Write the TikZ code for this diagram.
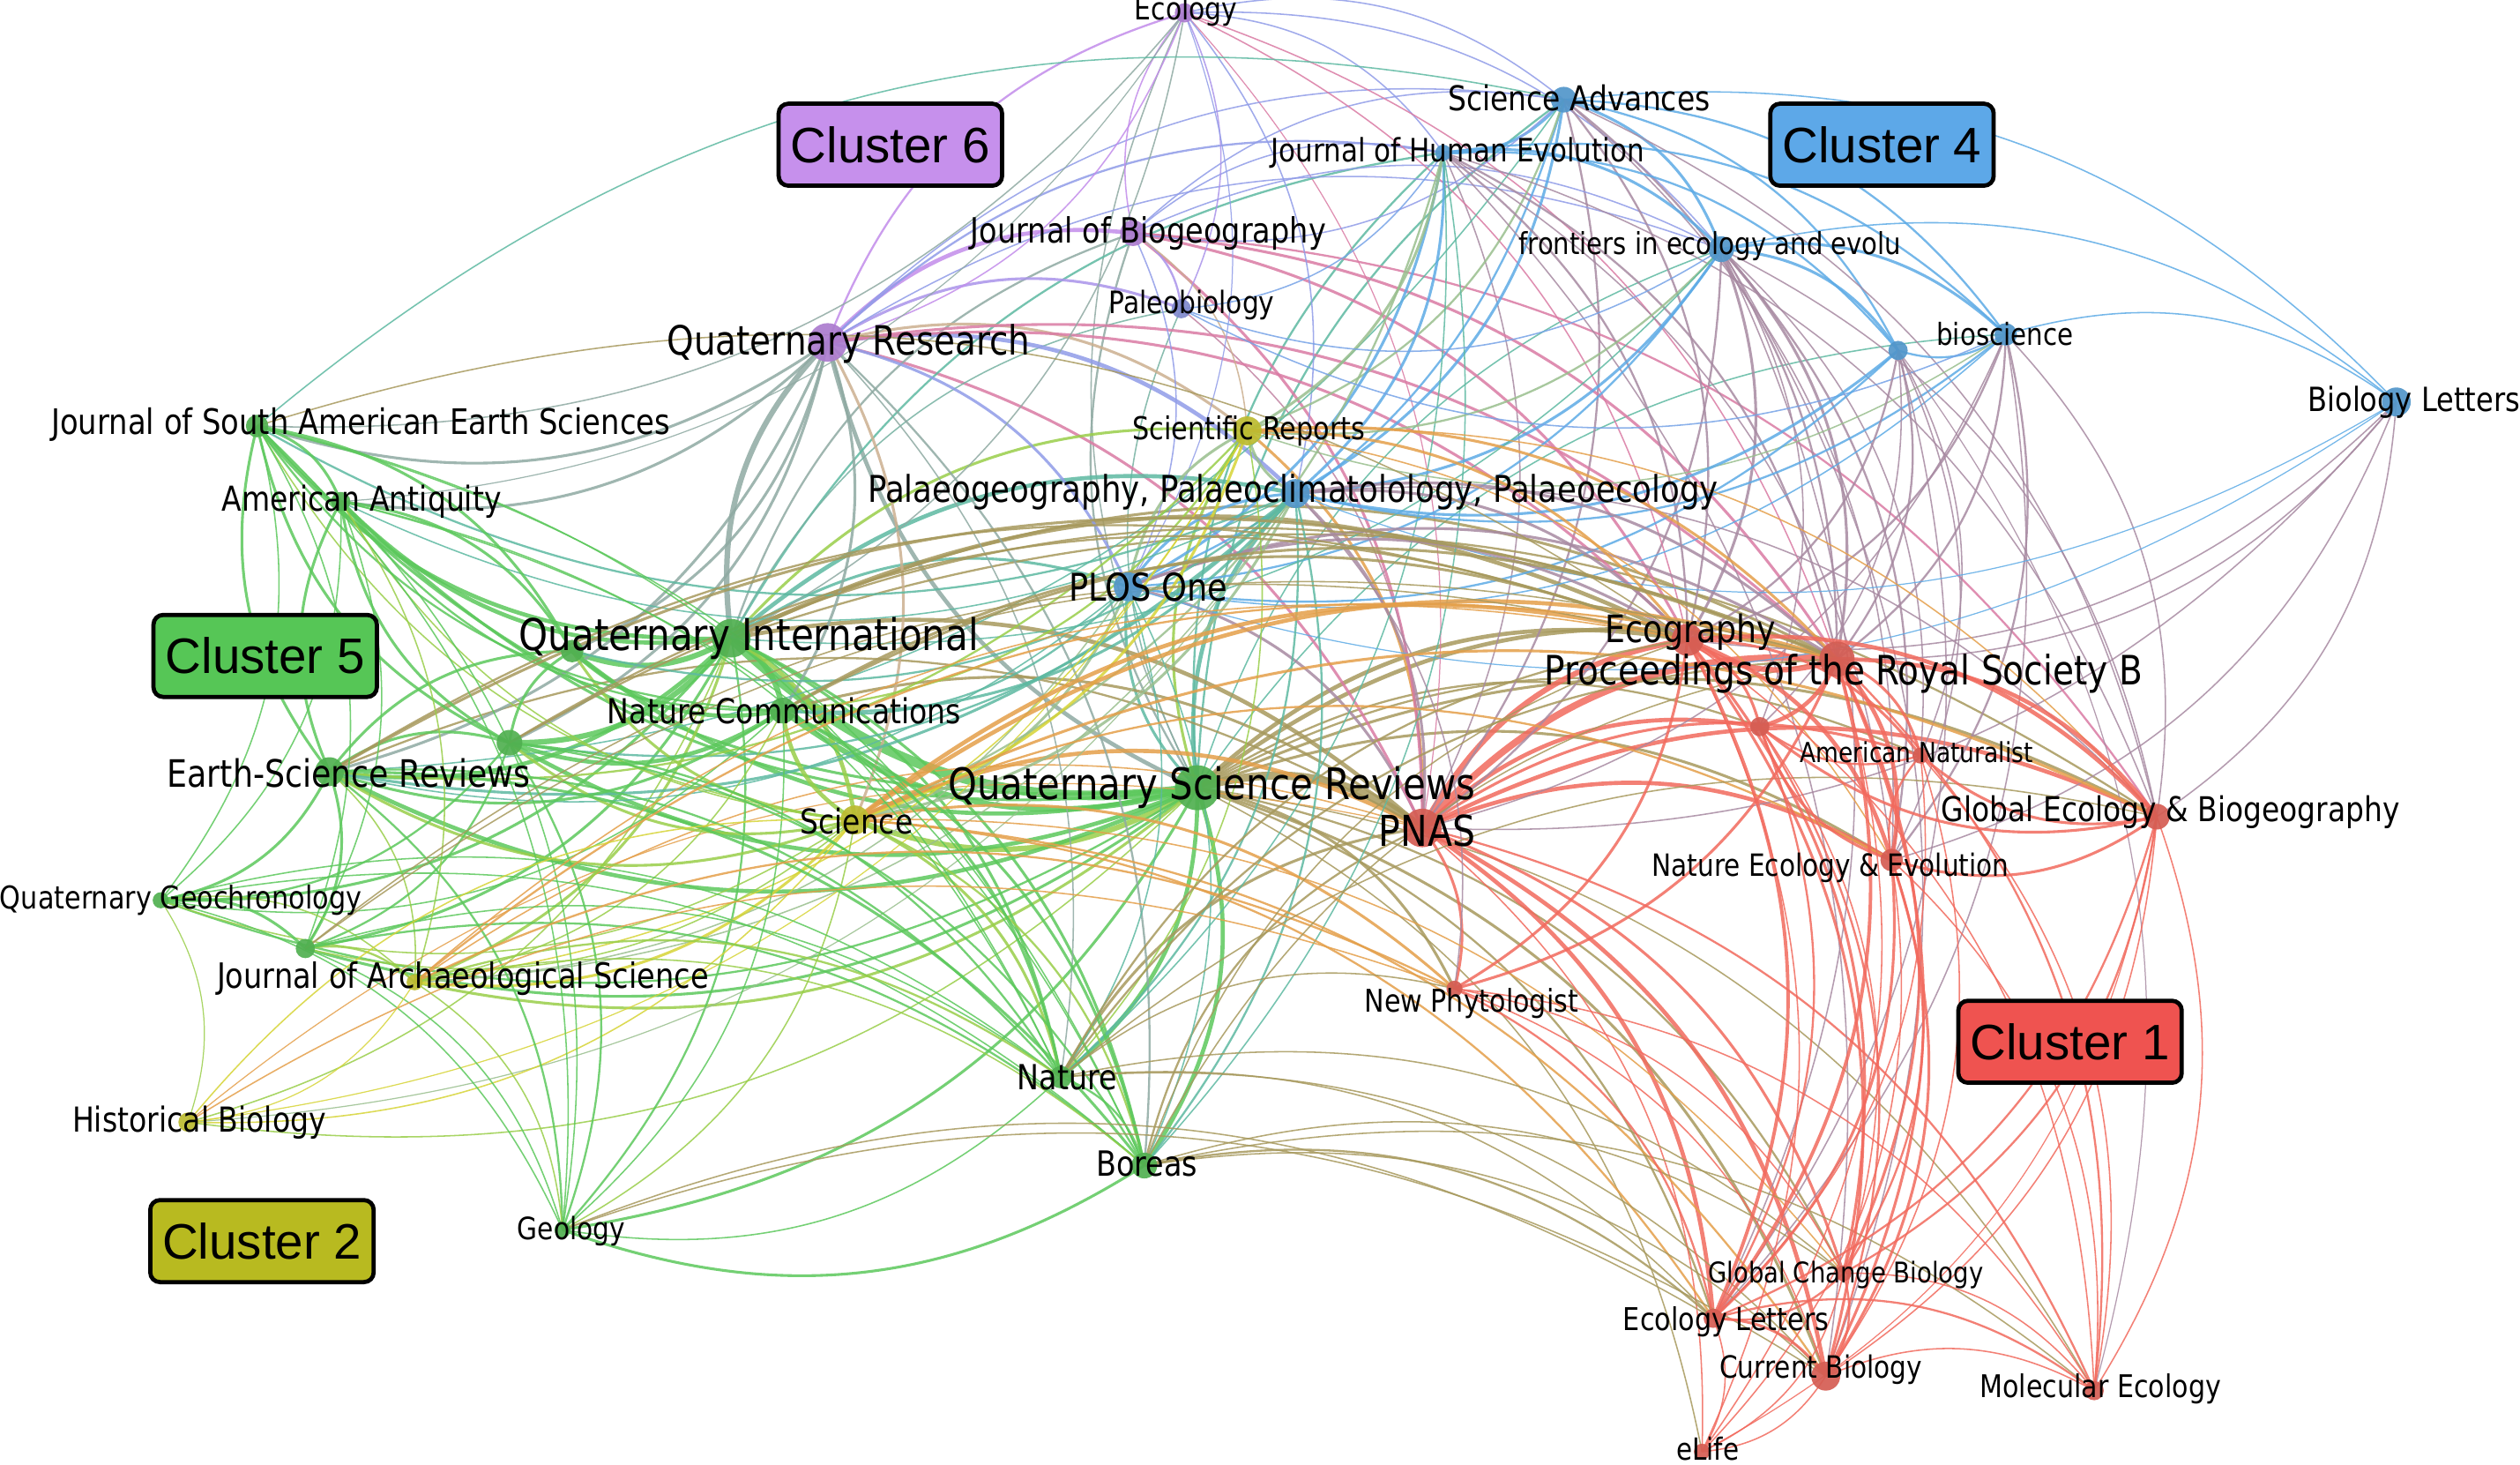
\documentclass[tikz,border=0pt]{standalone}
\usepackage{fontspec}
\setmainfont[FakeStretch=0.85]{DejaVu Sans}
\newfontfamily\clfont{Liberation Sans}
\usepackage{graphicx}
\definecolor{R}{HTML}{F26A5E}
\definecolor{Y}{HTML}{D6D436}
\definecolor{B}{HTML}{5DABE6}
\definecolor{G}{HTML}{5CC85C}
\definecolor{P}{HTML}{C38DEB}
\definecolor{boxR}{HTML}{EF5350}
\definecolor{boxY}{HTML}{B8BA20}
\definecolor{boxB}{HTML}{5DA8E8}
\definecolor{boxG}{HTML}{56C656}
\definecolor{boxP}{HTML}{C690EC}
\colorlet{cqsr}{G}\colorlet{cpnas}{R}\colorlet{cqi}{G}\colorlet{cqia}{G}
\colorlet{cqr}{P}\colorlet{cprsb}{R}\colorlet{cecog}{R}\colorlet{crx}{R}
\colorlet{can}{R}\colorlet{cgeb}{R}\colorlet{cnee}{R}\colorlet{cnp}{R}
\colorlet{cgcb}{R}\colorlet{cel}{R}\colorlet{ccb}{R}\colorlet{cme}{R}
\colorlet{celife}{R}\colorlet{csa}{B}\colorlet{cjhe}{B}\colorlet{cfr}{B}
\colorlet{cbio}{B}\colorlet{cbiox}{B}\colorlet{cbl}{B}\colorlet{cplos}{B}
\colorlet{cpal}{B}\colorlet{cjsa}{G}\colorlet{caa}{G}\colorlet{cesr}{G}
\colorlet{cesrx}{G}\colorlet{cqg}{G}\colorlet{cgx}{G}\colorlet{cnc}{G}
\colorlet{cnat}{G}\colorlet{cbor}{G}\colorlet{cgeo}{G}\colorlet{csci}{Y}
\colorlet{csr}{Y}\colorlet{chb}{Y}\colorlet{cjas}{Y}\colorlet{ceco}{P}
\colorlet{cjb}{P}\colorlet{cpb}{P!50!B}
\tikzset{
  jn/.style={circle, inner sep=0pt, draw=none, fill opacity=0.92},
  lab/.style={inner sep=0pt, text=black},
  clbox/.style={draw=black, line width=2.6pt, rounded corners=6pt,
    minimum width=139pt, minimum height=51pt, inner sep=0pt,
    font=\clfont\fontsize{31}{31}\selectfont},
}
\begin{document}
\begin{tikzpicture}[x=1pt,y=-1pt]
\fill[white] (0,0) rectangle (1568,911);
\useasboundingbox (0,0) rectangle (1568,911);
\foreach \n/\x/\y in {qsr/745/490, pnas/885/515, qi/455/397, qia/356/405, qr/515/213,
  prsb/1143/410, ecog/1050/398, rx/1095/452, an/1195/470, geb/1342/508, nee/1177/535,
  np/905/615, gcb/1147/792, el/1066/820, cb/1136/856, me/1303/865, elife/1059/903,
  sa/973/62, jhe/898/95, fr/1071/155, bio/1248/208, biox/1181/218, bl/1491/250,
  plos/702/365, pal/806/307, jsa/160/265, aa/212/312, esr/205/480, esrx/317/462,
  qg/100/560, gx/190/590, nc/487/442, nat/660/670, bor/712/725, geo/350/765,
  sci/532/510, sr/776/268, hb/117/698, jas/258/611, eco/737/8, jb/705/145, pb/735/192}
  \coordinate (\n) at (\x,\y);
\foreach \a/\b/\w in {
qsr/pnas/6, qsr/qi/7, qsr/qr/3, qsr/nc/4, qsr/sci/4, qsr/esr/3, qsr/jsa/2, qsr/aa/2, qsr/qg/1.5, qsr/gx/2, qsr/nat/3, qsr/bor/3, qsr/geo/2, qsr/plos/2, qsr/pal/3, qsr/sr/2, qsr/jb/1.5, qsr/pb/1, qsr/eco/1, qsr/prsb/3, qsr/ecog/3, qsr/geb/2, qsr/nee/2, qsr/np/2, qsr/gcb/1.5, qsr/el/1.5, qsr/cb/2, qsr/me/1, qsr/elife/1, qsr/jhe/1.5, qsr/sa/1.5, qsr/fr/1, qsr/bio/1, qsr/an/1.5, qsr/jas/2, qsr/hb/1, qsr/qia/3, qsr/esrx/3, qsr/rx/1.5,
pnas/prsb/5, pnas/ecog/4, pnas/geb/3, pnas/nee/3, pnas/an/2, pnas/rx/3, pnas/np/2, pnas/gcb/2, pnas/el/3, pnas/cb/3, pnas/me/1.5, pnas/elife/1, sci/pnas/3, nat/pnas/2, qi/pnas/3, nc/pnas/2, plos/pnas/2, sr/pnas/2, pal/pnas/2, qr/pnas/2, jb/pnas/2, fr/pnas/1.5, bio/pnas/1, sa/pnas/1.5, jhe/pnas/1, bl/pnas/1, esr/pnas/1.5, bor/pnas/1.5, jas/pnas/1, hb/pnas/.8, pb/pnas/1, eco/pnas/.8,
qi/qr/4, qi/qia/4, qi/esr/3, qi/esrx/4, qi/nc/4, qi/jsa/3, qi/aa/3, qi/qg/2, qi/gx/2, qi/sci/3, qi/nat/2, qi/bor/2, qi/geo/1.5, qi/pal/3, qi/plos/2, qi/sr/2, qi/jas/2, qi/prsb/2, qi/ecog/3, qi/geb/1.5, qi/jb/1.5, qi/hb/1, qi/jhe/1.5, qi/pb/1,
qr/jb/3, qr/eco/1.5, qr/pb/2, qr/jsa/2, qr/aa/2, qr/esr/2, qr/esrx/2, qr/nc/2, qr/sci/2, qr/pal/3, qr/sr/2, qr/plos/2, qr/prsb/2, qr/ecog/2, qr/bor/1.5, qr/nat/1, qr/jhe/1.5, qr/sa/1, qr/fr/1, qr/qia/2,
jb/eco/1, jb/pb/1.5, jb/ecog/2, jb/prsb/2, jb/geb/1.5, jb/sr/1, jb/plos/1, jb/fr/1, jb/sa/1, jb/jhe/1,
eco/pb/1, eco/sa/1, eco/jhe/1, eco/fr/1, eco/prsb/1, eco/qr/1, eco/qi/1, eco/jsa/1, eco/aa/.8, eco/pal/1, eco/plos/.8, eco/ecog/1,
sa/jhe/2, sa/fr/2, sa/bio/1.5, sa/biox/1.5, sa/bl/1, sa/plos/1.5, sa/pal/2, sa/sr/1.5, sa/prsb/1.5, sa/ecog/1.5, sa/jb/1, sa/nee/1, sa/geb/1, sa/esr/1, jsa/sa/1,
jhe/fr/2, jhe/bio/1.5, jhe/biox/1.5, jhe/plos/2, jhe/pal/2, jhe/sr/2, jhe/pb/1, jhe/prsb/1.5, jhe/ecog/1.5, jhe/sci/1.5, jhe/nat/1, jhe/bor/1, jhe/nee/1, jhe/geb/1, jhe/cb/1,
fr/bio/2, fr/biox/2, fr/bl/1, fr/plos/1.5, fr/pal/2, fr/sr/1.5, fr/prsb/2, fr/ecog/2, fr/nee/1.5, fr/geb/1, fr/an/1, fr/rx/1, fr/el/1, fr/cb/1, fr/pb/1, fr/qi/1,
bio/biox/1.5, bio/bl/1, bio/prsb/1.5, bio/ecog/1.5, bio/nee/1.5, bio/geb/1, bio/pal/1.5, bio/plos/1, bio/sr/1, bio/el/1, bio/pb/1,
biox/prsb/1.5, biox/ecog/1.5, biox/pal/2, biox/plos/1.5, biox/an/1, biox/el/1, biox/nee/1, biox/rx/1, biox/me/.8,
bl/prsb/1, bl/nee/1, bl/geb/1, bl/plos/.8, bl/pal/.8, bl/ecog/1,
plos/pal/2, plos/sr/2, plos/sci/2, plos/nc/1.5, plos/prsb/2, plos/ecog/2, plos/nat/1, plos/bor/1, plos/esr/1, plos/jas/1,
pal/sr/2, pal/sci/2, pal/nc/2, pal/esr/2, pal/esrx/1.5, pal/nat/1.5, pal/bor/1.5, pal/prsb/2, pal/ecog/2, pal/np/1, pal/geb/1, pal/jas/1, pal/hb/.8, pal/jsa/1.5, pal/aa/1, pal/qia/1.5,
sr/sci/2, sr/nc/1.5, sr/esr/1.5, sr/prsb/2, sr/ecog/2, sr/nat/1, sr/jas/1, sr/hb/.8, sr/geb/1, sr/nee/1,
sci/nc/3, sci/esr/2, sci/esrx/2, sci/qia/2, sci/jas/2, sci/hb/1, sci/qg/1, sci/gx/1, sci/nat/2, sci/bor/1.5, sci/geo/1, sci/prsb/3, sci/ecog/3, sci/np/2, sci/geb/2, sci/nee/1.5, sci/cb/1.5, sci/el/1.5, sci/gcb/1, sci/jsa/1, sci/aa/1,
nc/esr/2, nc/esrx/3, nc/qia/3, nc/aa/1.5, nc/jsa/1.5, nc/nat/2, nc/bor/2, nc/prsb/2, nc/ecog/2, nc/jas/1, nc/geo/1, nc/qg/1,
esr/jsa/2, esr/aa/2, esr/qg/2, esr/gx/2, esr/esrx/2, esr/qia/2, esr/nat/1.5, esr/bor/2, esr/geo/1.5, esr/jas/1, esr/prsb/2, esr/ecog/1.5,
esrx/jsa/2, esrx/aa/2, esrx/qia/2, esrx/qg/1.5, esrx/gx/1.5, esrx/nat/1.5, esrx/bor/1.5, esrx/geo/1.5, esrx/prsb/1.5, esrx/ecog/1.5,
jsa/aa/2, jsa/qia/2, jsa/qg/1, jsa/gx/1, jsa/nat/1, jsa/bor/1, jsa/geo/1, jsa/ecog/1,
aa/qia/2, aa/qg/1, aa/gx/1, aa/nat/1, aa/bor/1, aa/geo/1, aa/jas/1,
qg/gx/2, qg/jas/1, qg/nat/1, qg/bor/1, qg/geo/1, qg/hb/.8,
gx/jas/1.5, gx/nat/1, gx/bor/1.5, gx/geo/1, gx/prsb/1, gx/ecog/1,
jas/hb/.8, jas/nat/1.5, jas/bor/1, jas/geo/1, jas/np/1.5, jas/prsb/1.5, jas/ecog/1,
hb/sci/1, hb/np/1,
nat/bor/1.5, nat/geo/1, nat/prsb/1.5, nat/ecog/1.5, nat/el/1, nat/cb/1, nat/np/1, nat/gcb/1, nat/geb/1,
bor/geo/2, bor/el/1.5, bor/cb/1, bor/me/1, bor/prsb/1, bor/ecog/1, bor/gcb/1,
geo/el/1, geo/cb/1,
prsb/ecog/4, prsb/geb/3, prsb/nee/3, prsb/an/2, prsb/rx/3, prsb/np/2, prsb/gcb/2, prsb/el/2.5, prsb/cb/2, prsb/me/1.5, prsb/elife/1,
ecog/geb/3, ecog/nee/3, ecog/an/2, ecog/rx/2, ecog/np/2, ecog/gcb/2, ecog/el/2.5, ecog/cb/2, ecog/me/1, ecog/elife/1,
geb/nee/2, geb/an/2, geb/rx/2, geb/gcb/1.5, geb/el/1.5, geb/cb/1, geb/me/1, geb/elife/.8,
nee/an/1.5, nee/rx/2, nee/gcb/1.5, nee/el/2, nee/cb/2, nee/me/1, nee/elife/1,
an/rx/1.5, an/el/1, an/cb/1, an/me/1, rx/el/1.5, rx/cb/1.5, rx/gcb/1,
np/gcb/1, np/el/1.5, np/cb/1, np/me/1, gcb/el/1.5, gcb/cb/1.5, gcb/me/1, gcb/elife/1,
el/cb/2, el/me/1.5, el/elife/1, cb/me/1, cb/elife/1}
  \draw[line width=\w*0.85pt, draw=c\a!50!c\b, opacity=0.85] (\a) to[bend left=26] (\b);
\foreach \n/\r in {qsr/14, pnas/12, qi/12, qia/7, qr/12, prsb/11, ecog/10, rx/6, an/5, geb/8,
  nee/7, np/5, gcb/5, el/6, cb/9, me/6, elife/5, sa/8, jhe/5, fr/8, bio/7, biox/6, bl/9,
  plos/9, pal/9, jsa/7, aa/6, esr/9, esrx/8, qg/5, gx/6, nc/8, nat/7, bor/8, geo/5,
  sci/9, sr/9, hb/6, jas/5, eco/6, jb/8, pb/6}
  \node[jn, minimum size=\r*2pt, fill=c\n!88!black] (n\n) at (\n) {};
\foreach \n/\x/\y/\w/\t in {
  eco/738/7/64/Ecology, sa/982.5/61/163/Science Advances,
  jhe/907/95/232/Journal of Human Evolution, jb/714.5/145/221/Journal of Biogeography,
  fr/1064/153/238/frontiers in ecology and evolu, pb/741.5/190/103/Paleobiology,
  bio/1247.5/208/85/bioscience, qr/528/214/226/Quaternary Research,
  jsa/224.5/264/385/Journal of South American Earth Sciences,
  sr/777/268/145/Scientific Reports, bl/1502/250/132/Biology Letters,
  aa/225/312/174/American Antiquity,
  pal/804.5/306/529/{Palaeogeography, Palaeoclimatolology, Palaeoecology},
  plos/714.5/365/99/PLOS One, qi/466/397/286/Quaternary International,
  ecog/1052/393/106/Ecography, prsb/1147/419/372/Proceedings of the Royal Society B,
  nc/488/442/220/Nature Communications, an/1192.5/468/145/American Naturalist,
  esr/217/481/226/Earth-Science Reviews, qsr/754/490/328/Quaternary Science Reviews,
  geb/1350.5/505/285/Global Ecology \& Biogeography, sci/533/511/70/Science,
  pnas/888/517/60/PNAS, nee/1139/540/222/Nature Ecology \& Evolution,
  qg/112.5/560/225/Quaternary Geochronology, jas/288/609/306/Journal of Archaeological Science,
  np/915.5/624/133/New Phytologist, nat/664/670/62/Nature,
  hb/124/698/158/Historical Biology, bor/713.5/724/63/Boreas, geo/355.5/766/67/Geology,
  gcb/1148.5/793/171/Global Change Biology, el/1074/822/128/Ecology Letters,
  cb/1133/852/126/Current Biology, me/1307/864/150/Molecular Ecology, elife/1062.5/901/39/eLife}
  \node[lab] (l\n) at (\x,\y) {\resizebox{\w pt}{!}{\t}};
\node[clbox, fill=boxP] (cl6) at (554,90) {Cluster 6};
\node[clbox, fill=boxB] (cl4) at (1171,90) {Cluster 4};
\node[clbox, fill=boxG] (cl5) at (165,408) {Cluster 5};
\node[clbox, fill=boxR] (cl1) at (1288,648) {Cluster 1};
\node[clbox, fill=boxY] (cl2) at (163,772) {Cluster 2};
\end{tikzpicture}
\end{document}
